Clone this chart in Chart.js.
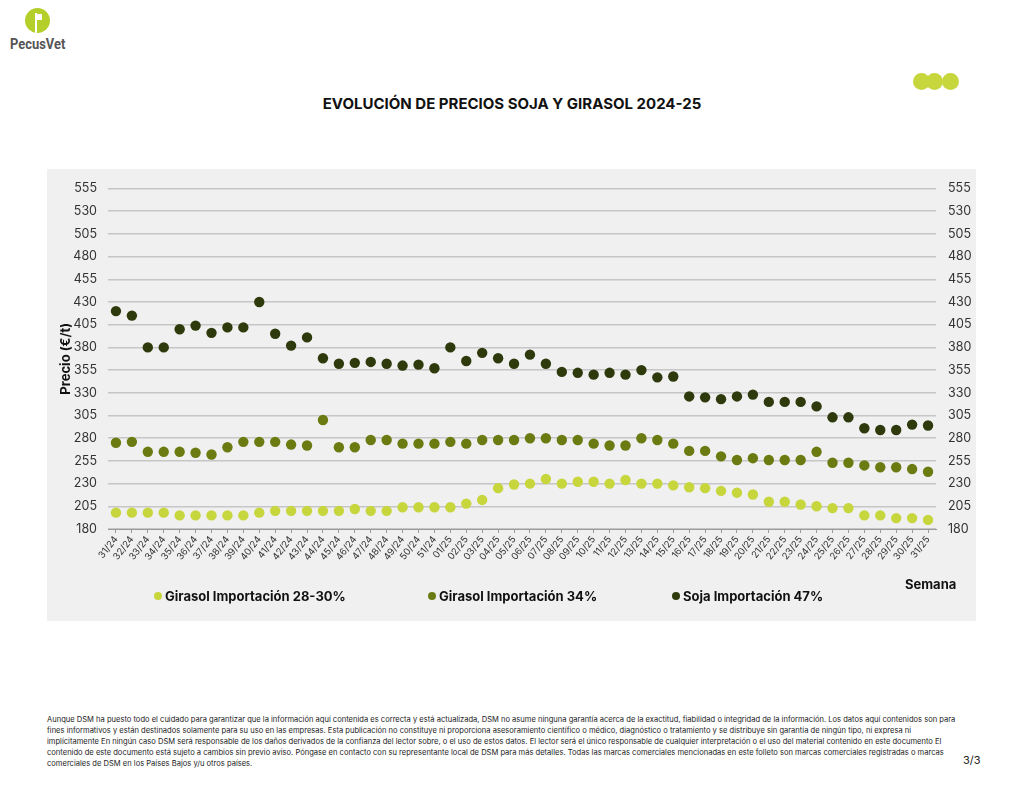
<!DOCTYPE html>
<html>
<head>
<meta charset="utf-8">
<script src="https://cdn.jsdelivr.net/npm/chart.js@4"></script>
<style>
  html, body { margin: 0; padding: 0; background: #ffffff; }
  body { width: 1024px; height: 791px; position: relative; overflow: hidden; font-family: "Inter", "DejaVu Sans", sans-serif; color: #111; }
  #logo { position: absolute; left: 25px; top: 8px; width: 25px; height: 25px; border-radius: 50%; background: #b5cf2a; overflow: hidden; }
  #logo .a { position: absolute; left: 10px; top: 5px; width: 2px; height: 20px; background: #fff; }
  #logo .b { position: absolute; left: 12px; top: 6px; width: 5px; height: 6px; background: #fff; }
  #logotext { position: absolute; left: 10px; top: 35px; font-family: "Roboto", sans-serif; font-weight: bold; font-size: 15px; color: #555; transform: scaleX(0.86); transform-origin: left top; }
  #dots { position: absolute; left: 913px; top: 73px; }
  #dots span { position: absolute; top: 0; width: 17px; height: 17px; border-radius: 50%; background: #c6d63c; }
  #title { position: absolute; left: 0; width: 1024px; top: 94px; text-align: center; font-weight: 700; font-size: 15px; color: #111; }
  #panel { position: absolute; left: 47px; top: 169px; width: 929px; height: 452px; background: #f0f0f0; }
  #chartbox { position: absolute; left: 0; top: 0; width: 929px; height: 452px; }
  .leg { position: absolute; top: 588px; font-weight: 700; font-size: 13px; color: #111; white-space: nowrap; }
  .leg i { display: inline-block; width: 8px; height: 8px; border-radius: 50%; margin-right: 3px; vertical-align: 1px; }
  #semana { position: absolute; left: 905px; top: 576px; font-weight: 700; font-size: 13px; color: #111; }
  #foot { position: absolute; left: 47px; top: 714px; font-size: 7.57px; line-height: 11px; color: #222; white-space: nowrap; }
  #page { position: absolute; left: 963px; top: 753px; font-size: 11px; color: #222; }
</style>
</head>
<body>
<div id="logo"><div class="a"></div><div class="b"></div></div>
<div id="logotext">PecusVet</div>
<div id="dots"><span style="left:0"></span><span style="left:13px"></span><span style="left:29px"></span></div>
<div id="title">EVOLUCIÓN DE PRECIOS SOJA Y GIRASOL 2024-25</div>
<div id="panel"><div id="chartbox"><canvas id="c" width="929" height="452"></canvas></div></div>
<div class="leg" style="left:154px"><i style="background:#c6d63c"></i>Girasol Importación 28-30%</div>
<div class="leg" style="left:428px"><i style="background:#6b7b12"></i>Girasol Importación 34%</div>
<div class="leg" style="left:672px"><i style="background:#2e3a0c"></i>Soja Importación 47%</div>
<div id="semana">Semana</div>
<div id="foot">Aunque DSM ha puesto todo el cuidado para garantizar que la información aquí contenida es correcta y está actualizada, DSM no asume ninguna garantía acerca de la exactitud, fiabilidad o integridad de la información. Los datos aquí contenidos son para<br>fines informativos y están destinados solamente para su uso en las empresas. Esta publicación no constituye ni proporciona asesoramiento científico o médico, diagnóstico o tratamiento y se distribuye sin garantía de ningún tipo, ni expresa ni<br>implícitamente En ningún caso DSM será responsable de los daños derivados de la confianza del lector sobre, o el uso de estos datos. El lector será el único responsable de cualquier interpretación o el uso del material contenido en este documento El<br>contenido de este documento está sujeto a cambios sin previo aviso. Póngase en contacto con su representante local de DSM para más detalles. Todas las marcas comerciales mencionadas en este folleto son marcas comerciales registradas o marcas<br>comerciales de DSM en los Países Bajos y/u otros países.</div>
<div id="page">3/3</div>
<script>
const weeks = ["31/24","32/24","33/24","34/24","35/24","36/24","37/24","38/24","39/24","40/24","41/24","42/24","43/24","44/24","45/24","46/24","47/24","48/24","49/24","50/24","51/24",
  "01/25","02/25","03/25","04/25","05/25","06/25","07/25","08/25","09/25","10/25","11/25","12/25","13/25","14/25","15/25","16/25",
  "17/25","18/25","19/25","20/25","21/25","22/25","23/25","24/25","25/25","26/25","27/25","28/25","29/25","30/25","31/25"];

const girasol2830 = [198,198,198,198,195,195,195,195,195,198,200,200,200,200,200,202,200,
  200,204,204,204,
  204,208,212,225,229,230,235,230,232,232,230,234,230,230,228,226,
  225,222,220,218,210,210,207,205,203,203,195,195,192,192,190];

const girasol34 = [275,276,265,265,265,264,262,270,276,276,276,273,272,300,270,270,278,
  278,274,274,274,
  276,274,278,278,278,280,280,278,278,274,272,272,280,278,274,266,
  266,260,256,258,256,256,256,265,253,253,250,248,248,246,243];

const soja47 = [420,415,380,380,400,404,396,402,402,430,395,382,391,368,362,363,364,
  362,360,361,357,
  380,365,374,368,362,372,362,353,352,350,352,350,355,347,348,326,
  325,323,326,328,320,320,320,315,303,303,291,289,289,295,294];

const yMin = 180, yMax = 555, yStep = 25;
const seriesNames = ["Girasol Importación 28-30%", "Girasol Importación 34%", "Soja Importación 47%"];
const seriesColors = ["#c6d63c", "#6b7b12", "#2e3a0c"];

const FONT = "Inter, 'DejaVu Sans', sans-serif";
Chart.defaults.font.family = FONT;
Chart.defaults.color = "#333";

function ds(name, data, color) {
  return { label: name, data: data, showLine: false, pointRadius: 5.2, pointHoverRadius: 5.2,
    pointBackgroundColor: color, pointBorderColor: color, pointBorderWidth: 0, borderColor: color, backgroundColor: color };
}

new Chart(document.getElementById("c"), {
  type: "line",
  data: {
    labels: weeks,
    datasets: [
      ds(seriesNames[0], girasol2830, seriesColors[0]),
      ds(seriesNames[1], girasol34, seriesColors[1]),
      ds(seriesNames[2], soja47, seriesColors[2])
    ]
  },
  options: {
    responsive: false,
    animation: false,
    events: [],
    layout: { padding: { top: 19, left: 0, right: 0, bottom: 0 } },
    plugins: { legend: { display: false }, tooltip: { enabled: false } },
    scales: {
      x: {
        type: "category",
        offset: true,
        grid: { display: true, drawOnChartArea: false, tickLength: 4, color: "#9a9a9a", offset: false },
        border: { display: true, color: "#9a9a9a", width: 1 },
        ticks: { autoSkip: false, minRotation: 52, maxRotation: 52, padding: 1, font: { size: 9.5 }, color: "#333" },
        afterFit: function (s) { s.height = 92; }
      },
      y: {
        position: "left",
        min: yMin, max: yMax,
        ticks: { stepSize: yStep, padding: 11, font: { size: 12.5 }, color: "#333" },
        grid: { color: "#c6c6c6", lineWidth: 1.5, drawTicks: false },
        border: { display: false },
        title: { display: true, text: "Precio (€/t)", font: { size: 13, weight: "bold" }, color: "#111", padding: { top: 11, bottom: 0 } },
        afterFit: function (s) { s.width = 61; }
      },
      y2: {
        position: "right",
        min: yMin, max: yMax,
        ticks: { stepSize: yStep, padding: 12, font: { size: 12.5 }, color: "#333" },
        grid: { display: false, drawTicks: false },
        border: { display: false },
        afterFit: function (s) { s.width = 40; }
      }
    }
  }
});
</script>
</body>
</html>
